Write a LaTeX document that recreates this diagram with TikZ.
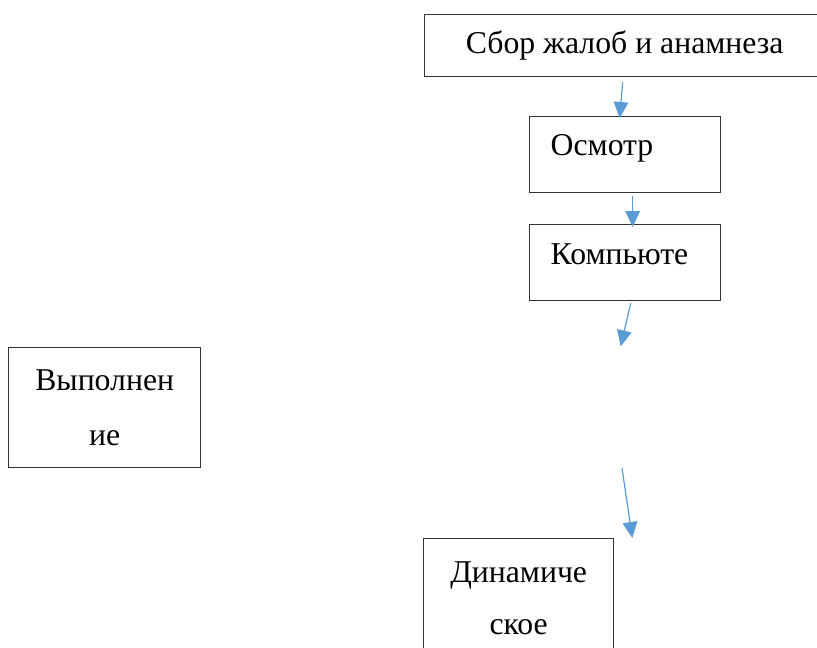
\documentclass[tikz,border=0pt]{standalone}
\usepackage{fontspec}
\setmainfont{Liberation Serif}
\usetikzlibrary{arrows.meta}
\definecolor{arrblue}{RGB}{91,155,213}

\begin{document}
\begin{tikzpicture}[x=0.75pt,y=-0.75pt,font=\fontsize{23.8}{41}\selectfont,
  box/.style={draw=black!80, line width=1pt, inner sep=0pt, anchor=north west},
  arr/.style={draw=arrblue, line width=0.9pt, -{Triangle[length=12pt,width=11pt]}}]
\useasboundingbox (0,0) rectangle (817,647);

\node[box, minimum width=300pt, text height=29.25pt, text depth=17.25pt] (sbor) at (424,14) {Сбор жалоб и анамнеза};

\node[box, text width=111.75pt, inner xsep=15.75pt, align=left, text height=29.25pt, text depth=27.75pt] (osm) at (529,116) {Осмотр};
\node[box, text width=111.75pt, inner xsep=15.75pt, align=left, text height=30pt, text depth=27pt] (komp) at (529,224) {Компьюте};

\node[box, minimum width=144pt, minimum height=90pt, align=center, font=\fontsize{23.8}{41.5}\selectfont] (vyp) at (8,347) {Выполнен\\ие};
\node[box, minimum width=142.5pt, minimum height=90pt, align=center, font=\fontsize{23.8}{39}\selectfont] (dyn) at (423,538) {Динамиче\\ское};

% free ends of the two lower arrows
\coordinate (gap1) at ([shift={(-4.5,45)}]komp.south);
\coordinate (gap2) at (622,468);

\draw[arr] ([shift={(-2,5)}]sbor.south) -- ([shift={(-5.5,2)}]osm.north);
\draw[arr] ([shift={(7.5,3)}]osm.south) -- ([shift={(7.5,3)}]komp.north);
\draw[arr] ([shift={(5.5,2)}]komp.south) -- (gap1);
\draw[arr] (gap2) -- ([shift={(18,0)}]dyn.north east);
\end{tikzpicture}
\end{document}
